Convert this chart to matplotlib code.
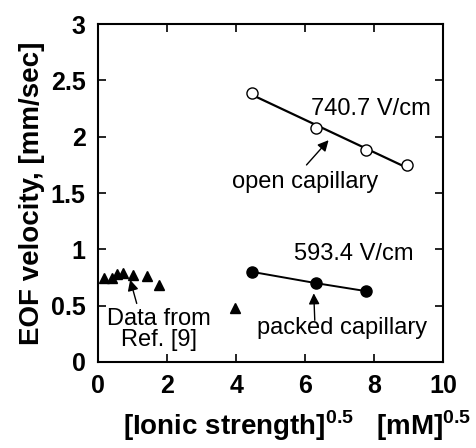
import numpy as np
import matplotlib
matplotlib.use("Agg")
import matplotlib.pyplot as plt

plt.rcParams['font.family'] = ['Liberation Sans', 'DejaVu Sans']
plt.rcParams['mathtext.fontset'] = 'custom'
plt.rcParams['mathtext.rm'] = 'Liberation Sans:bold'
plt.rcParams['mathtext.bf'] = 'Liberation Sans:bold'

# sqrt of ionic strength [mM^0.5] and EOF velocity [mm/sec]
open_x = [4.47, 6.32, 7.75, 8.94]
open_v = [2.39, 2.08, 1.88, 1.75]

packed_x = [4.47, 6.32, 7.75]
packed_v = [0.80, 0.70, 0.63]

ref_x = [0.17, 0.40, 0.54, 0.71, 1.01, 1.43, 1.77, 3.98]
ref_v = [0.75, 0.75, 0.78, 0.79, 0.77, 0.76, 0.68, 0.48]

xticks = [0, 2, 4, 6, 8, 10]
yticks = [0, 0.5, 1, 1.5, 2, 2.5, 3]
ytick_labels = ['0', '0.5', '1', '1.5', '2', '2.5', '3']

fig = plt.figure(figsize=(4.76, 4.48), dpi=100)
ax = fig.add_axes([0.206, 0.192, 0.725, 0.754])

# open capillary: points + least squares line
ax.plot(open_x, open_v, 'o', mfc='white', mec='k', mew=1.0, ms=8, zorder=3)
k, b = np.polyfit(open_x, open_v, 1)
fx = np.array([open_x[0], open_x[-1]])
ax.plot(fx, k * fx + b, '-', color='k', lw=1.6, zorder=2)

# packed capillary
ax.plot(packed_x, packed_v, '-o', color='k', ms=8, lw=1.4, zorder=3)

# literature data
ax.plot(ref_x, ref_v, '^', color='k', ms=7.5, clip_on=False, zorder=3)

ax.set_xlim(0, 10)
ax.set_ylim(0, 3)
ax.set_xticks(xticks)
ax.set_yticks(yticks)
ax.set_yticklabels(ytick_labels)
ax.tick_params(direction='in', length=6, width=1.2, top=True, right=True,
               labelsize=18, pad=9)
for lbl in ax.get_xticklabels() + ax.get_yticklabels():
    lbl.set_fontweight('bold')
for sp in ax.spines.values():
    sp.set_linewidth(1.5)

arrow = dict(arrowstyle='-|>', color='k', lw=1.0, mutation_scale=16,
             shrinkA=0, shrinkB=0)

ax.text(7.9, 2.25, '740.7 V/cm', fontsize=17, ha='center', va='center')
ax.text(6.0, 1.60, 'open capillary', fontsize=17, ha='center', va='center')
ax.annotate('', xy=(6.68, 1.97), xytext=(6.04, 1.75), arrowprops=arrow)

ax.text(7.4, 0.96, '593.4 V/cm', fontsize=17, ha='center', va='center')
ax.text(7.07, 0.30, 'packed capillary', fontsize=17, ha='center', va='center')
ax.annotate('', xy=(6.25, 0.61), xytext=(6.28, 0.37), arrowprops=arrow)

ax.text(1.77, 0.29, 'Data from\nRef. [9]', fontsize=17, ha='center',
        va='center', linespacing=0.95)
ax.annotate('', xy=(0.93, 0.73), xytext=(1.12, 0.52), arrowprops=arrow)

ax.set_ylabel('EOF velocity, [mm/sec]', fontsize=20, fontweight='bold',
              labelpad=4)
fig.text(0.625, 0.03, r'[Ionic strength]$^{0.5}$   [mM]$^{0.5}$',
         fontsize=20, fontweight='bold', ha='center', va='baseline')

fig.savefig('out.png', dpi=100)
